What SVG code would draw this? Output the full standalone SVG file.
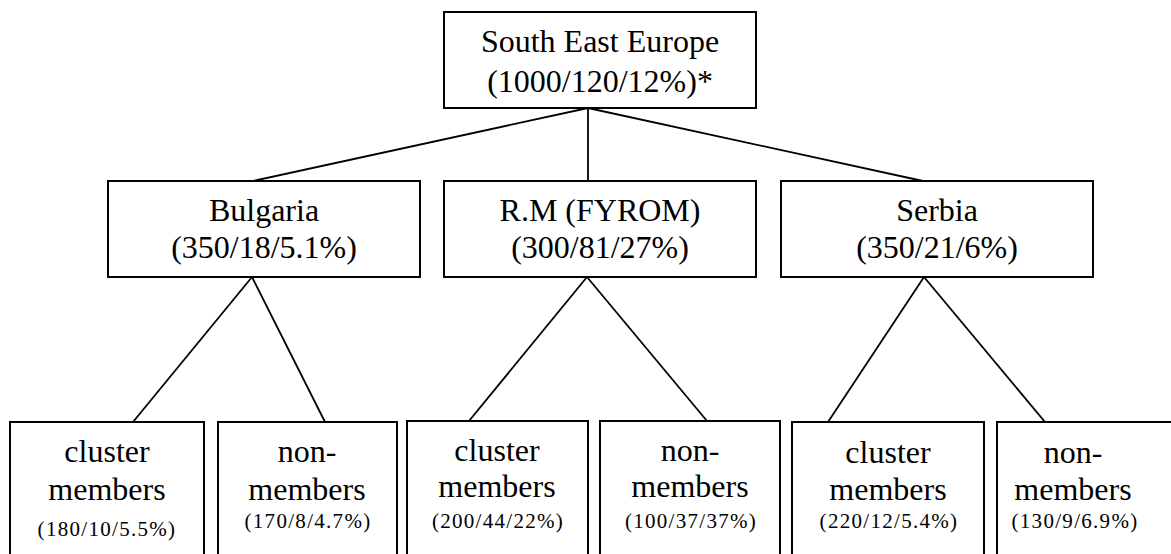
<svg xmlns="http://www.w3.org/2000/svg" width="1171" height="554" viewBox="0 0 1171 554">
  <style>
    .box { fill: #fff; stroke: #000; stroke-width: 2; }
    .link { stroke: #000; stroke-width: 1.8; fill: none; }
    .big { font-family: "Liberation Serif", "Times New Roman", serif; font-size: 32px; fill: #000; text-anchor: middle; }
    .small { font-family: "Liberation Serif", "Times New Roman", serif; font-size: 21px; letter-spacing: 1.3px; fill: #000; text-anchor: middle; }
  </style>
  <rect width="1171" height="554" fill="#fff"/>

  <!-- connectors -->
  <g id="connectors">
    <line class="link" x1="588" y1="108" x2="253" y2="181"/>
    <line class="link" x1="588" y1="108" x2="588" y2="181"/>
    <line class="link" x1="588" y1="108" x2="923" y2="181"/>
    <line class="link" x1="252" y1="277" x2="133" y2="422"/>
    <line class="link" x1="252" y1="277" x2="325" y2="422"/>
    <line class="link" x1="587" y1="277" x2="469" y2="421"/>
    <line class="link" x1="587" y1="277" x2="707" y2="421"/>
    <line class="link" x1="924" y1="277" x2="828" y2="422"/>
    <line class="link" x1="924" y1="277" x2="1045" y2="422"/>
  </g>

  <!-- root -->
  <g id="see">
    <rect class="box" x="444" y="12" width="312" height="96"/>
    <text class="big" x="600" y="52">South East Europe</text>
    <text class="big" x="600" y="92">(1000/120/12%)*</text>
  </g>

  <!-- countries -->
  <g id="bulgaria">
    <rect class="box" x="108" y="181" width="312" height="96"/>
    <text class="big" x="264" y="221">Bulgaria</text>
    <text class="big" x="264" y="258">(350/18/5.1%)</text>
  </g>
  <g id="rm">
    <rect class="box" x="444" y="181" width="312" height="96"/>
    <text class="big" x="600" y="221">R.M (FYROM)</text>
    <text class="big" x="600" y="258">(300/81/27%)</text>
  </g>
  <g id="serbia">
    <rect class="box" x="781" y="181" width="312" height="96"/>
    <text class="big" x="937" y="221">Serbia</text>
    <text class="big" x="937" y="258">(350/21/6%)</text>
  </g>

  <!-- cluster members / non-members -->
  <g id="bg-cluster">
    <rect class="box" x="10" y="422" width="194" height="145"/>
    <text class="big" x="107" y="462">cluster</text>
    <text class="big" x="107" y="500">members</text>
    <text class="small" x="107" y="536">(180/10/5.5%)</text>
  </g>
  <g id="bg-non">
    <rect class="box" x="218" y="422" width="179" height="145"/>
    <text class="big" x="307" y="462">non-</text>
    <text class="big" x="307" y="500">members</text>
    <text class="small" x="308" y="528">(170/8/4.7%)</text>
  </g>
  <g id="rm-cluster">
    <rect class="box" x="407" y="421" width="181" height="145"/>
    <text class="big" x="497" y="461">cluster</text>
    <text class="big" x="497" y="497">members</text>
    <text class="small" x="498" y="528">(200/44/22%)</text>
  </g>
  <g id="rm-non">
    <rect class="box" x="600" y="421" width="180" height="145"/>
    <text class="big" x="690" y="461">non-</text>
    <text class="big" x="690" y="497">members</text>
    <text class="small" x="691" y="528">(100/37/37%)</text>
  </g>
  <g id="rs-cluster">
    <rect class="box" x="792" y="422" width="192" height="145"/>
    <text class="big" x="888" y="463">cluster</text>
    <text class="big" x="888" y="500">members</text>
    <text class="small" x="889" y="528">(220/12/5.4%)</text>
  </g>
  <g id="rs-non">
    <rect class="box" x="997" y="422" width="190" height="145"/>
    <text class="big" x="1073" y="463">non-</text>
    <text class="big" x="1073" y="500">members</text>
    <text class="small" x="1075" y="528">(130/9/6.9%)</text>
  </g>
</svg>
